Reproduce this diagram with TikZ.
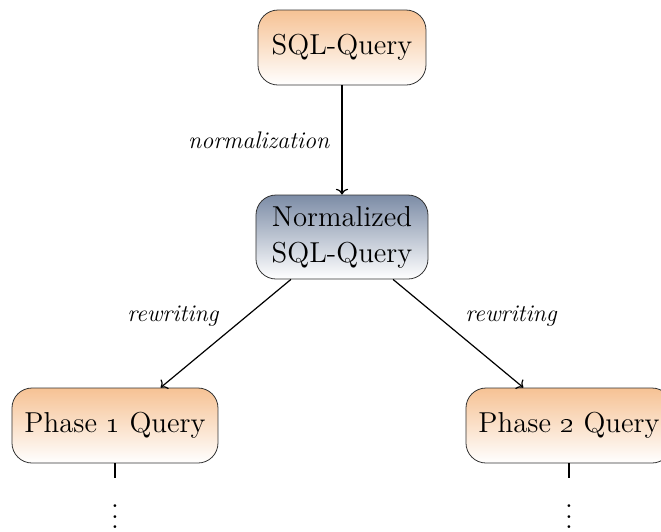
\documentclass[tikz,border=0pt]{standalone}
\usepackage{xcolor}
\usepackage{tikz}
\usetikzlibrary{arrows.meta,positioning}

\definecolor{qorange}{RGB}{246,194,148}
\definecolor{qslate}{RGB}{124,140,166}

\newcommand{\phasedots}{\vbox{\baselineskip5.25pt \lineskiplimit0pt \kern10pt\hbox{.}\hbox{.}\hbox{.}}}

\begin{document}
\begin{tikzpicture}[
    >=To, semithick, node distance=2.5cm,
    query_node/.style={rectangle, rounded corners=10pt, draw=black!80, thin, top color=qorange, bottom color=white, minimum height=37.5pt, inner xsep=5pt, font=\Large, align=center},
    norm_node/.style={rectangle, rounded corners=10pt, draw=black!80, thin, top color=qslate, bottom color=white, minimum height=42pt, inner xsep=6pt, inner ysep=2pt, font=\Large, align=center},
    trans_lbl/.style={font=\large\itshape, text=black},
    dots_node/.style={inner sep=3pt, font=\Large}
]
    \useasboundingbox (-171pt,23.75pt) rectangle (159.5pt,-242.25pt);

    % Query Nodes
    \node[query_node, minimum width=84pt] (sql) at (0,0) {SQL-Query};
    \node[norm_node, minimum width=86pt, on grid, below=94.75pt of sql] (norm) {Normalized\\SQL-Query};
    \node[query_node, minimum width=103pt, on grid, below left=94.25pt and 113.5pt of norm] (phase1) {Phase \oldstylenums{1} Query};
    \node[query_node, minimum width=103pt, on grid, below right=94.25pt and 113.5pt of norm] (phase2) {Phase \oldstylenums{2} Query};

    % Continuation
    \node[dots_node, below=7.5pt of phase1] (more1) {\phasedots};
    \node[dots_node, below=7.5pt of phase2] (more2) {\phasedots};

    % Transformations
    \path[->]
        (sql) edge node[trans_lbl, left, inner sep=6pt] {normalization} (norm)
        (norm) edge node[trans_lbl, above left] {rewriting} (phase1)
        (norm) edge node[trans_lbl, above right] {rewriting} (phase2);
    \draw (phase1) -- (more1);
    \draw (phase2) -- (more2);
\end{tikzpicture}
\end{document}
